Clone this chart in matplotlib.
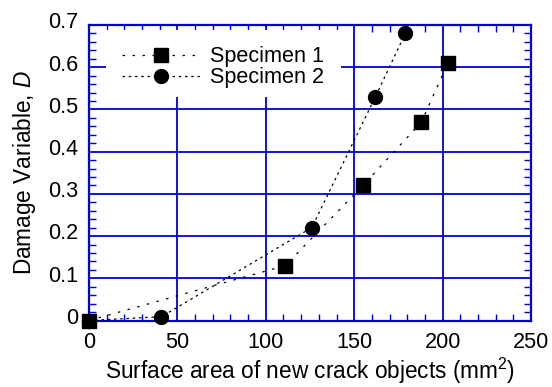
import matplotlib
matplotlib.use("Agg")
import matplotlib.pyplot as plt
from matplotlib.patches import Rectangle
from matplotlib.ticker import MultipleLocator, FixedFormatter, FixedLocator
from matplotlib.transforms import ScaledTranslation

plt.rcParams['font.family'] = ['Liberation Sans', 'DejaVu Sans']
plt.rcParams['mathtext.fontset'] = 'custom'
plt.rcParams['mathtext.rm'] = 'Liberation Sans'
plt.rcParams['mathtext.it'] = 'Liberation Sans:italic'

# Data
spec1_x = [0, 111, 155, 188, 203]
spec1_y = [0.0, 0.13, 0.32, 0.47, 0.61]
spec2_x = [0, 41, 126, 162, 179]
spec2_y = [0.0, 0.009, 0.22, 0.53, 0.681]
series_labels = ["Specimen 1", "Specimen 2"]
x_ticks = [0, 50, 100, 150, 200, 250]
y_ticks = [0, 0.1, 0.2, 0.3, 0.4, 0.5, 0.6, 0.7]
y_tick_labels = ["0", "0.1", "0.2", "0.3", "0.4", "0.5", "0.6", "0.7"]

blue = '#0000d8'
fs = 16.3
tfs = 15.6

fig = plt.figure(figsize=(5.52, 3.87), dpi=100)
ax = fig.add_axes([89/552, 1-320.5/387, (531-89)/552, (320.5-25)/387])

ax.set_xlim(0, 250)
ax.set_ylim(0, 0.7)

ax.plot(spec1_x, spec1_y, color='black', lw=0.9, linestyle=(0, (2, 6)),
        marker='s', markersize=10, label=series_labels[0], zorder=3, clip_on=False)
ax.plot(spec2_x, spec2_y, color='black', lw=0.9, linestyle=(0, (2, 3)),
        marker='o', markersize=10, label=series_labels[1], zorder=3, clip_on=False)

ax.xaxis.set_major_locator(FixedLocator(x_ticks))
ax.yaxis.set_major_locator(FixedLocator(y_ticks))
ax.yaxis.set_major_formatter(FixedFormatter(y_tick_labels))
ax.xaxis.set_minor_locator(MultipleLocator(10))
ax.yaxis.set_minor_locator(MultipleLocator(0.02))

ax.grid(True, which='major', color=blue, lw=1.3)
ax.set_axisbelow(True)
for s in ax.spines.values():
    s.set_color(blue)
    s.set_linewidth(1.6)

ax.tick_params(which='both', direction='in', top=True, right=True, colors=blue,
               labelcolor='black', labelsize=tfs, pad=8)
ax.tick_params(which='major', length=0)
ax.tick_params(which='minor', length=5, width=1)

off = ScaledTranslation(0, 4.7/100, fig.dpi_scale_trans)
for lab in ax.get_yticklabels():
    lab.set_transform(lab.get_transform() + off)

# white box behind legend covering grid
ax.add_patch(Rectangle((9.6, 0.530), 142.5-9.6, 0.687-0.530, facecolor='white',
                       edgecolor='none', zorder=1.8))

leg = ax.legend(loc='upper left', bbox_to_anchor=(0.035, 0.986), frameon=False,
                fontsize=tfs, handlelength=3.6, handletextpad=0.45,
                labelspacing=0.0, borderpad=0.3)

ax.set_xlabel("Surface area of new crack objects (mm$^2$)", fontsize=fs, labelpad=2)
ax.set_ylabel("Damage Variable, $D$", fontsize=fs, labelpad=7)

fig.savefig("out.png", dpi=100)
